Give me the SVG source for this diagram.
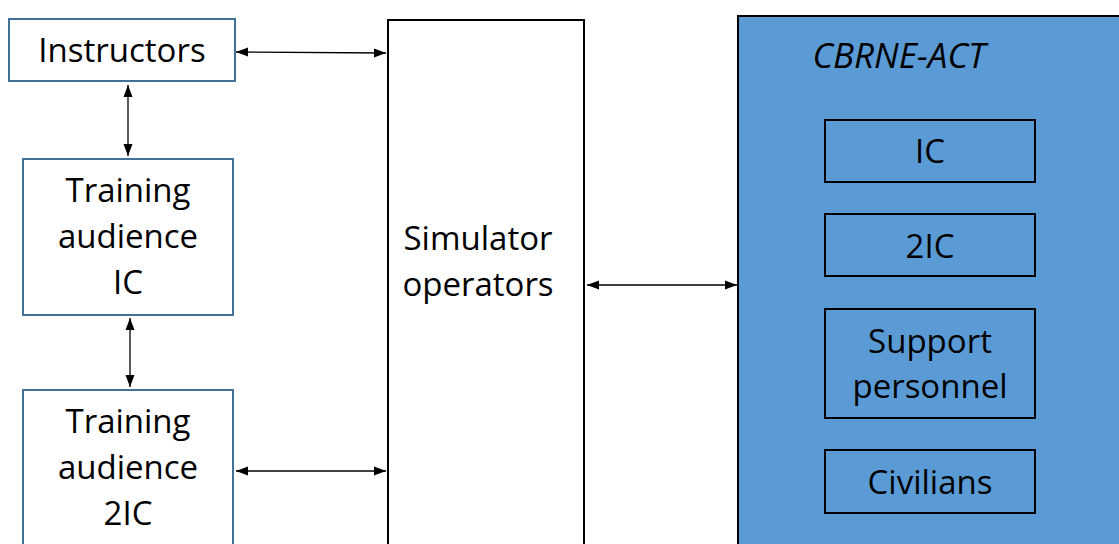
<svg xmlns="http://www.w3.org/2000/svg" width="1119" height="544" viewBox="0 0 1119 544">
  <style>
    .lbl { font-family: "Open Sans", "Liberation Sans", sans-serif; font-size: 33px; fill: #000; text-anchor: middle; }
    .title { font-style: italic; font-size: 35px; }
    .blue-box { fill: #fff; stroke: #41719C; stroke-width: 2; }
    .plain-box { fill: #fff; stroke: #000; stroke-width: 2; }
    .act-box { fill: #5B9BD5; stroke: #000; stroke-width: 2; }
    .inner-box { fill: #5B9BD5; stroke: #000; stroke-width: 2; }
    .link { stroke: #000; stroke-width: 1.3; fill: none; marker-start: url(#head); marker-end: url(#head); }
  </style>
  <defs>
    <marker id="head" viewBox="0 0 12 10" refX="12" refY="5" markerWidth="12" markerHeight="10" markerUnits="userSpaceOnUse" orient="auto-start-reverse">
      <path d="M0,0.5 L12,5 L0,9.5 Z" fill="#000"/>
    </marker>
  </defs>
  <rect width="1119" height="544" fill="#fff"/>

  <g id="instructors">
    <rect class="blue-box" x="9" y="19" width="226" height="62"/>
    <text class="lbl" x="122" y="62">Instructors</text>
  </g>

  <g id="training-ic">
    <rect class="blue-box" x="23" y="159" width="210" height="156"/>
    <text class="lbl" x="128" y="202">Training</text>
    <text class="lbl" x="128" y="248">audience</text>
    <text class="lbl" x="128" y="294">IC</text>
  </g>

  <g id="training-2ic">
    <rect class="blue-box" x="23" y="390" width="210" height="170"/>
    <text class="lbl" x="128" y="433">Training</text>
    <text class="lbl" x="128" y="479">audience</text>
    <text class="lbl" x="128" y="525">2IC</text>
  </g>

  <g id="simulator-operators">
    <rect class="plain-box" x="388" y="20" width="196" height="540"/>
    <text class="lbl" x="478" y="250">Simulator</text>
    <text class="lbl" x="478" y="296">operators</text>
  </g>

  <g id="cbrne-act">
    <rect class="act-box" x="738" y="16" width="400" height="545"/>
    <text class="lbl title" x="899" y="68">CBRNE-ACT</text>
    <g id="role-ic">
      <rect class="inner-box" x="825" y="120" width="210" height="62"/>
      <text class="lbl" x="930" y="163">IC</text>
    </g>
    <g id="role-2ic">
      <rect class="inner-box" x="825" y="214" width="210" height="62"/>
      <text class="lbl" x="930" y="258">2IC</text>
    </g>
    <g id="role-support">
      <rect class="inner-box" x="825" y="309" width="210" height="109"/>
      <text class="lbl" x="930" y="353">Support</text>
      <text class="lbl" x="930" y="398">personnel</text>
    </g>
    <g id="role-civilians">
      <rect class="inner-box" x="825" y="450" width="210" height="63"/>
      <text class="lbl" x="930" y="494">Civilians</text>
    </g>
  </g>

  <g id="connectors">
    <line class="link" x1="236" y1="52" x2="386" y2="53"/>
    <line class="link" x1="128" y1="85" x2="128" y2="156"/>
    <line class="link" x1="130" y1="318" x2="130" y2="387"/>
    <line class="link" x1="236" y1="471" x2="386" y2="471"/>
    <line class="link" x1="587" y1="285" x2="737" y2="285"/>
  </g>
</svg>
